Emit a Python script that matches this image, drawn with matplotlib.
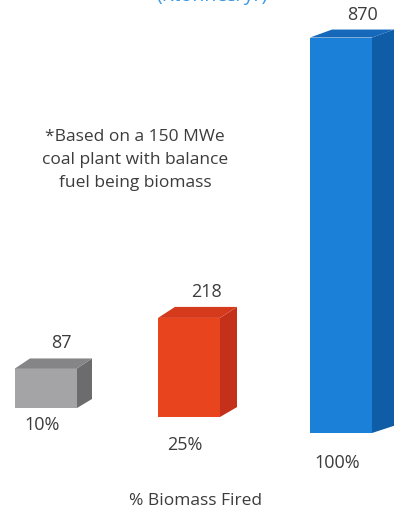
import matplotlib.pyplot as plt
from matplotlib.patches import Polygon

#Chart data
categories = ["10%", "25%", "100%"]
values = [87, 218, 870]
note = "*Based on a 150 MWe\ncoal plant with balance\nfuel being biomass"
title = "(Ktonnes/yr)"
xlabel = "% Biomass Fired"

#Colours: front, side, top of each box
front_colors = ["#a4a4a6", "#e8441e", "#1b80d8"]
side_colors = ["#6c6c6f", "#c5301a", "#0e5da6"]
top_colors = ["#858588", "#d63a1c", "#1668bb"]
text_color = "#3c3c3c"

#Layout, in pixels of the 406x511 picture
W, H = 406, 511
k = 2.2                      # value units per pixel
x_center = [46, 189, 341]
bar_w = 62
base_px = [408, 417, 433]    # bars sit on a slanted floor
depth_x = [15, 17, 22]
depth_y = [10, 11, 8]
label_drop = [22, 33, 35]    # category label distance below each box

plt.rcParams['font.family'] = ['Open Sans', 'DejaVu Sans']

fig = plt.figure(figsize=(W/100, H/100), dpi=100)
ax = fig.add_axes([0, 0, 1, 1])
ax.set_xlim(0, W)
ax.set_ylim(-(H - base_px[2])*k, base_px[2]*k)
ax.axis('off')

bottoms = [(base_px[2] - b)*k for b in base_px]

bars = ax.bar(x_center, values, width=bar_w, bottom=bottoms,
              color=front_colors, zorder=3)

for i, rect in enumerate(bars):
    xl = rect.get_x()
    xr = xl + rect.get_width()
    y0 = rect.get_y()
    y1 = y0 + rect.get_height()
    dx = depth_x[i]
    dy = depth_y[i]*k

    side = Polygon([(xr, y0), (xr + dx, y0 + dy*0.9), (xr + dx, y1 + dy), (xr, y1)],
                   closed=True, facecolor=side_colors[i], edgecolor='none', zorder=2)
    ax.add_patch(side)
    top = Polygon([(xl, y1), (xl + dx, y1 + dy), (xr + dx, y1 + dy), (xr, y1)],
                  closed=True, facecolor=top_colors[i], edgecolor='none', zorder=4)
    ax.add_patch(top)

    #value above the box
    ax.text(x_center[i] + dx, y1 + dy + 10*k, str(values[i]),
            ha='center', va='baseline', fontsize=13, color=text_color)
    #category below the box
    ax.text(x_center[i] - 4, y0 - label_drop[i]*k, categories[i],
            ha='center', va='baseline', fontsize=13, color=text_color)

ax.text(135, (base_px[2] - 160)*k, note, ha='center', va='center',
        fontsize=12.5, color=text_color, linespacing=1.55)

ax.text(196, (base_px[2] - 505)*k, xlabel, ha='center', va='baseline',
        fontsize=12.5, color=text_color)

#title is cut off at the top edge, as in the source picture
ax.text(212, (base_px[2] - 1)*k, title, ha='center', va='baseline',
        fontsize=14, color="#3a98e6", clip_on=True)

fig.savefig("out.png", dpi=100)
